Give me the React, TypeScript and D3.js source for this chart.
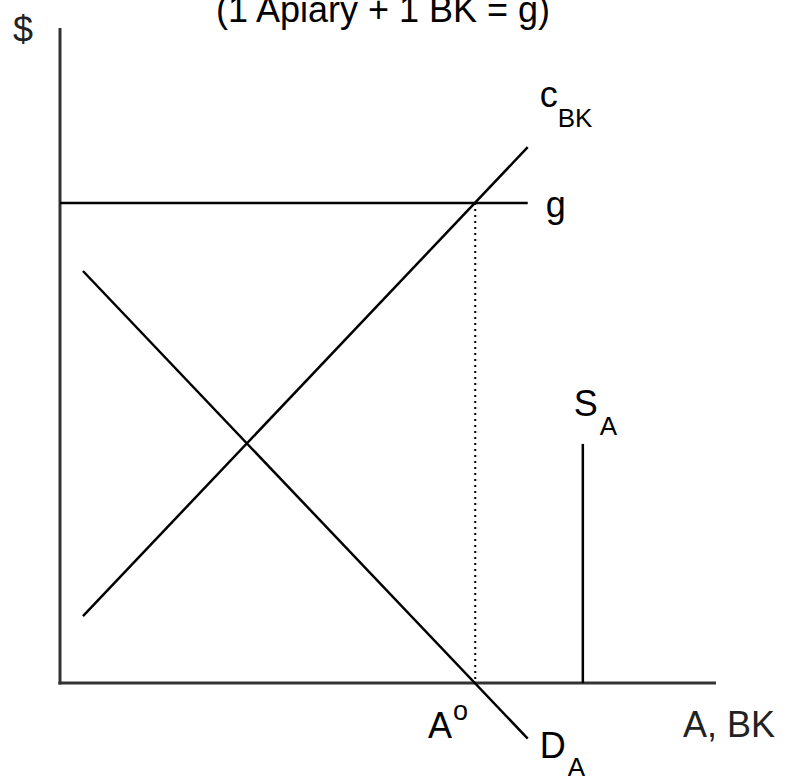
import React from "react";
import * as d3 from "d3";

const W = 793;
const H = 777;

// Data in abstract units (0..100 on each axis)
const demandLine: [number, number][] = [[3.5, 62.9], [71.3, -8.5]];
const costLine: [number, number][] = [[3.5, 10.2], [71.3, 81.8]];
const gLevel = 73.3;
const gExtent: [number, number] = [0, 71.3];
const aZero = 63.3;
const supplyX = 79.7;
const supplyTop = 36.5;
const titleText = "(1 Apiary + 1 BK = g)";
const yLabel = "$";
const xLabel = "A, BK";

export default function App() {
  const x = d3.scaleLinear().domain([0, 100]).range([60, 716]);
  const y = d3.scaleLinear().domain([0, 100]).range([683, 28]);
  const line = d3
    .line<[number, number]>()
    .x((d) => x(d[0]))
    .y((d) => y(d[1]));

  const font = "'Liberation Sans', Arial, sans-serif";
  const main = 36;
  const sub = 26;

  return (
    <svg
      width={W}
      height={H}
      style={{ position: "absolute", left: 0, top: 0, background: "#fff" }}
      fontFamily={font}
    >
      <rect x={0} y={0} width={W} height={H} fill="#fff" />
      {/* axes */}
      <line x1={x(0)} y1={y(100)} x2={x(0)} y2={y(0) + 1.5} stroke="#333" strokeWidth={3} />
      <line x1={x(0) - 1.5} y1={y(0)} x2={x(100)} y2={y(0)} stroke="#333" strokeWidth={3} />

      {/* g horizontal */}
      <line x1={x(gExtent[0])} y1={y(gLevel)} x2={x(gExtent[1])} y2={y(gLevel)} stroke="#000" strokeWidth={2.5} />
      {/* dotted */}
      <line x1={x(aZero)} y1={y(gLevel)} x2={x(aZero)} y2={y(0)} stroke="#000" strokeWidth={2} strokeDasharray="2,4" />
      {/* demand */}
      <path d={line(demandLine) || ""} fill="none" stroke="#000" strokeWidth={2.5} />
      {/* cost */}
      <path d={line(costLine) || ""} fill="none" stroke="#000" strokeWidth={2.5} />
      {/* supply */}
      <line x1={x(supplyX)} y1={y(0)} x2={x(supplyX)} y2={y(supplyTop)} stroke="#000" strokeWidth={2.5} />

      {/* title */}
      <text x={383} y={22} fontSize={main} textAnchor="middle" fill="#000">{titleText}</text>
      <text x={13} y={42} fontSize={main} fill="#222">{yLabel}</text>
      <text x={683} y={737} fontSize={main} fill="#222">{xLabel}</text>

      {/* c_BK */}
      <text x={x(costLine[1][0]) + 12} y={y(costLine[1][1]) - 40} fontSize={main} fill="#000">c</text>
      <text x={x(costLine[1][0]) + 30} y={y(costLine[1][1]) - 20} fontSize={sub} fill="#000">BK</text>

      {/* g */}
      <text x={x(gExtent[1]) + 18} y={y(gLevel) + 14} fontSize={main} fill="#000">g</text>

      {/* S_A */}
      <text x={x(supplyX) - 9} y={y(supplyTop) - 28} fontSize={main} fill="#000">S</text>
      <text x={x(supplyX) + 17} y={y(supplyTop) - 9} fontSize={sub} fill="#000">A</text>

      {/* A^o */}
      <text x={428} y={738} fontSize={main} fill="#000">A</text>
      <text x={453} y={720} fontSize={27} fill="#000">o</text>

      {/* D_A */}
      <text x={x(demandLine[1][0]) + 12} y={y(demandLine[1][1]) + 19} fontSize={main} fill="#000">D</text>
      <text x={x(demandLine[1][0]) + 40} y={y(demandLine[1][1]) + 37} fontSize={sub} fill="#000">A</text>
    </svg>
  );
}
